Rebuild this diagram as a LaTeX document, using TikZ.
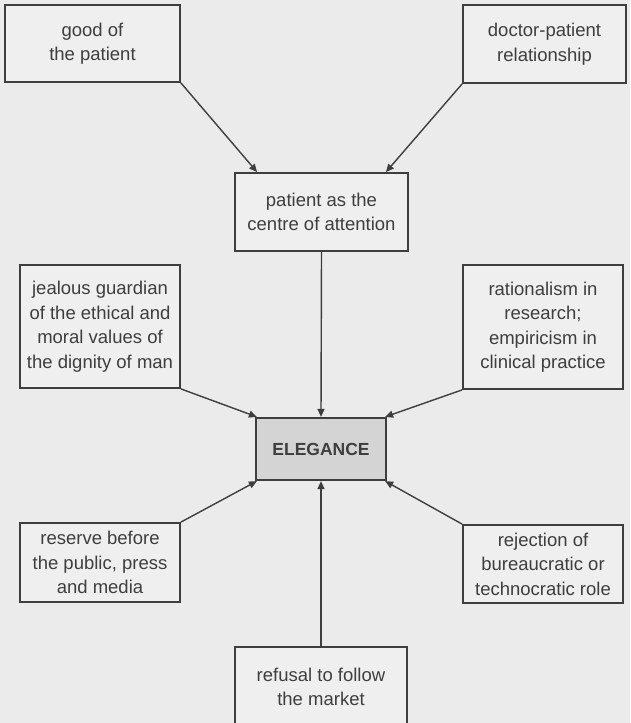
\documentclass[tikz,border=0pt]{standalone}
\usepackage{fontspec}
\setmainfont{Liberation Sans}
\usetikzlibrary{arrows.meta,calc}
\definecolor{bg}{HTML}{EBEBEB}
\definecolor{boxfill}{HTML}{EFEFEF}
\definecolor{ink}{HTML}{3E3E3E}
\definecolor{elefill}{HTML}{D4D4D4}
\tikzset{
  box/.style={draw=ink, line width=1.8pt, fill=boxfill, text=ink, align=center,
    inner sep=0pt, font=\fontsize{18.5}{24.5}\selectfont},
  elebox/.style={box, fill=elefill, line width=2.2pt, font=\fontsize{17.5}{22}\selectfont\bfseries},
  conn/.style={draw=ink, line width=1.4pt, -{Triangle[length=8pt,width=7pt]}}
}
\begin{document}
\begin{tikzpicture}[x=1pt,y=-1pt]
\useasboundingbox (0,0) rectangle (630,723);
\fill[bg] (0,0) rectangle (630,723);
\node[box, minimum width=175pt, minimum height=77pt] (good) at (92.5,43.5) {good of\\the patient};
\node[box, minimum width=163pt, minimum height=78pt] (doctor) at (544.5,44) {doctor-patient\\relationship};
\node[box, minimum width=173pt, minimum height=78pt] (centre) at (321.5,212) {patient as the\\centre of attention};
\node[box, minimum width=160pt, minimum height=123pt] (jealous) at (100,326.5) {jealous guardian\\of the ethical and\\moral values of\\the dignity of man};
\node[box, minimum width=160pt, minimum height=124pt] (ration) at (543,327) {rationalism in\\research;\\empiricism in\\clinical practice};
\node[elebox, minimum width=130pt, minimum height=62pt] (ele) at (321,449) {ELEGANCE};
\node[box, minimum width=160pt, minimum height=79pt] (reserve) at (100,562.5) {reserve before\\the public, press\\and media};
\node[box, minimum width=160pt, minimum height=78pt] (reject) at (543,564) {rejection of\\bureaucratic or\\technocratic role};
\node[box, minimum width=172pt, minimum height=80pt] (refusal) at (321,687) {refusal to follow\\the market};
\draw[conn] (good.south east) -- ([xshift=23pt]centre.north west);
\draw[conn] (doctor.south west) -- ([xshift=-23pt]centre.north east);
\draw[conn] (centre.south) -- (ele.north);
\draw[conn] (jealous.south east) -- ([xshift=2pt]ele.north west);
\draw[conn] (ration.south west) -- ([xshift=-2pt]ele.north east);
\draw[conn] (reserve.north east) -- ([xshift=2pt]ele.south west);
\draw[conn] (reject.north west) -- ([xshift=-2pt]ele.south east);
\draw[conn] (refusal.north) -- (ele.south);
\end{tikzpicture}
\end{document}
